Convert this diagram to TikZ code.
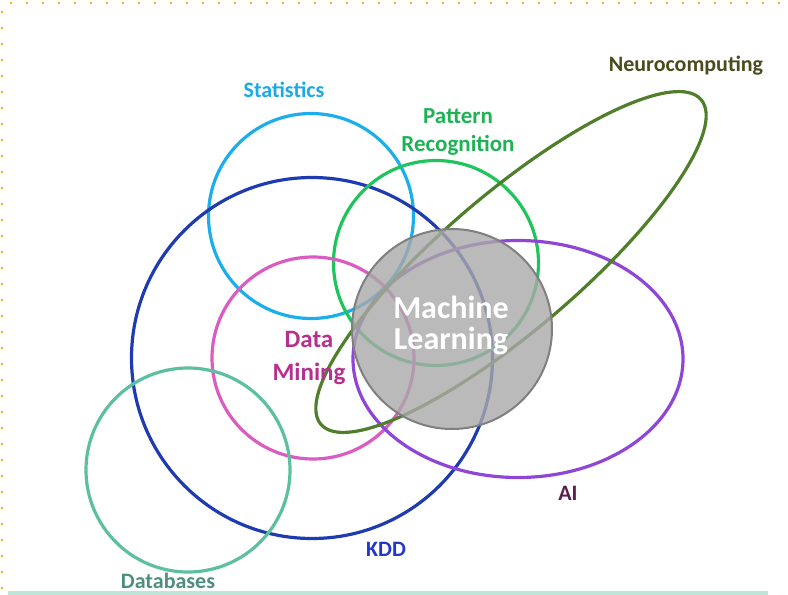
\documentclass[tikz,border=0pt]{standalone}
\usepackage{fontspec}
\setmainfont{Carlito}
\usepackage{tikz}
\usetikzlibrary{positioning,shapes.geometric}
\definecolor{cStat}{HTML}{1BAEEA}
\definecolor{cPattern}{HTML}{1FC45C}
\definecolor{cKDD}{HTML}{1F3BB0}
\definecolor{cMining}{HTML}{DA5CC0}
\definecolor{cDB}{HTML}{5CBFA0}
\definecolor{cAI}{HTML}{8F45D6}
\definecolor{cNeuro}{HTML}{4F7F2A}
\definecolor{cML}{HTML}{A9A9A9}
\definecolor{cMLedge}{HTML}{7F7F7F}
\definecolor{tStat}{HTML}{1CA9E6}
\definecolor{tPattern}{HTML}{1DB355}
\definecolor{tKDD}{HTML}{2237C8}
\definecolor{tMining}{HTML}{B5308F}
\definecolor{tDB}{HTML}{4F8E7F}
\definecolor{tAI}{HTML}{5B1E4E}
\definecolor{tNeuro}{HTML}{4B4B1E}
\definecolor{cDots}{HTML}{F5BA00}
\definecolor{cBase}{HTML}{BDE5D8}
\tikzstyle{tSet} = [circle, line width=3.2pt, inner sep=0pt]
\tikzstyle{tOval} = [ellipse, line width=3.2pt, inner sep=0pt]
\tikzstyle{tLabel} = [font=\bfseries\fontsize{22}{28}\selectfont, align=center, inner sep=0pt]
\tikzstyle{tDots} = [cDots, line width=1.6pt, dash pattern=on 2pt off 14pt]

\begin{document}
\begin{tikzpicture}[x=1pt,y=-1pt]
        \useasboundingbox (0,0) rectangle (788,595);
        % frame
        \draw[tDots] (10,3) -- (788,3);
        \draw[tDots] (2,11) -- (2,595);
        \fill[cBase] (8,591) rectangle (768,595);
        % the sets
        \node[tSet, draw=cStat, minimum size=205] (Stats) at (311,216) {};
        \node[tSet, draw=cKDD, minimum size=361] (KDD) at (312,358) {};
        \node[tSet, draw=cPattern, minimum size=205] (Pattern) at (436,263) {};
        \node[tSet, draw=cMining, minimum size=202] (Mining) at (313,358) {};
        \node[tSet, draw=cDB, minimum size=204] (DB) at (188,470) {};
        \node[tOval, draw=cAI, minimum width=330, minimum height=237] (AI) at (518,359) {};
        \node[tOval, draw=cNeuro, minimum width=500, minimum height=136, rotate=40.5] (Neuro) at (511,262) {};
        \node[tSet, draw=cMLedge, fill=cML, fill opacity=0.8, line width=2pt, minimum size=200] (ML) at (452,329) {};
        % labels
        \node[tLabel, text=tStat] (StatsText) at (284,90) {Statistics};
        \node[tLabel, text=tPattern, font=\bfseries\fontsize{23}{28}\selectfont] (PatternText) at (458,132) {Pattern\\Recognition};
        \node[tLabel, text=tNeuro] (NeuroText) at (686,66) {Neurocomputing};
        \node[tLabel, text=tMining, font=\bfseries\fontsize{25}{33}\selectfont] (MiningText) at (309,358) {Data\\Mining};
        \node[tLabel, text=white, font=\bfseries\fontsize{32}{31}\selectfont] (MLText) at (451,325) {Machine\\Learning};
        \node[tLabel, text=tAI] (AIText) at (568,493) {AI};
        \node[tLabel, text=tKDD] (KDDText) at (386,549) {KDD};
        \node[tLabel, text=tDB] (DBText) at (168,581) {Databases};
    \end{tikzpicture}
\end{document}
